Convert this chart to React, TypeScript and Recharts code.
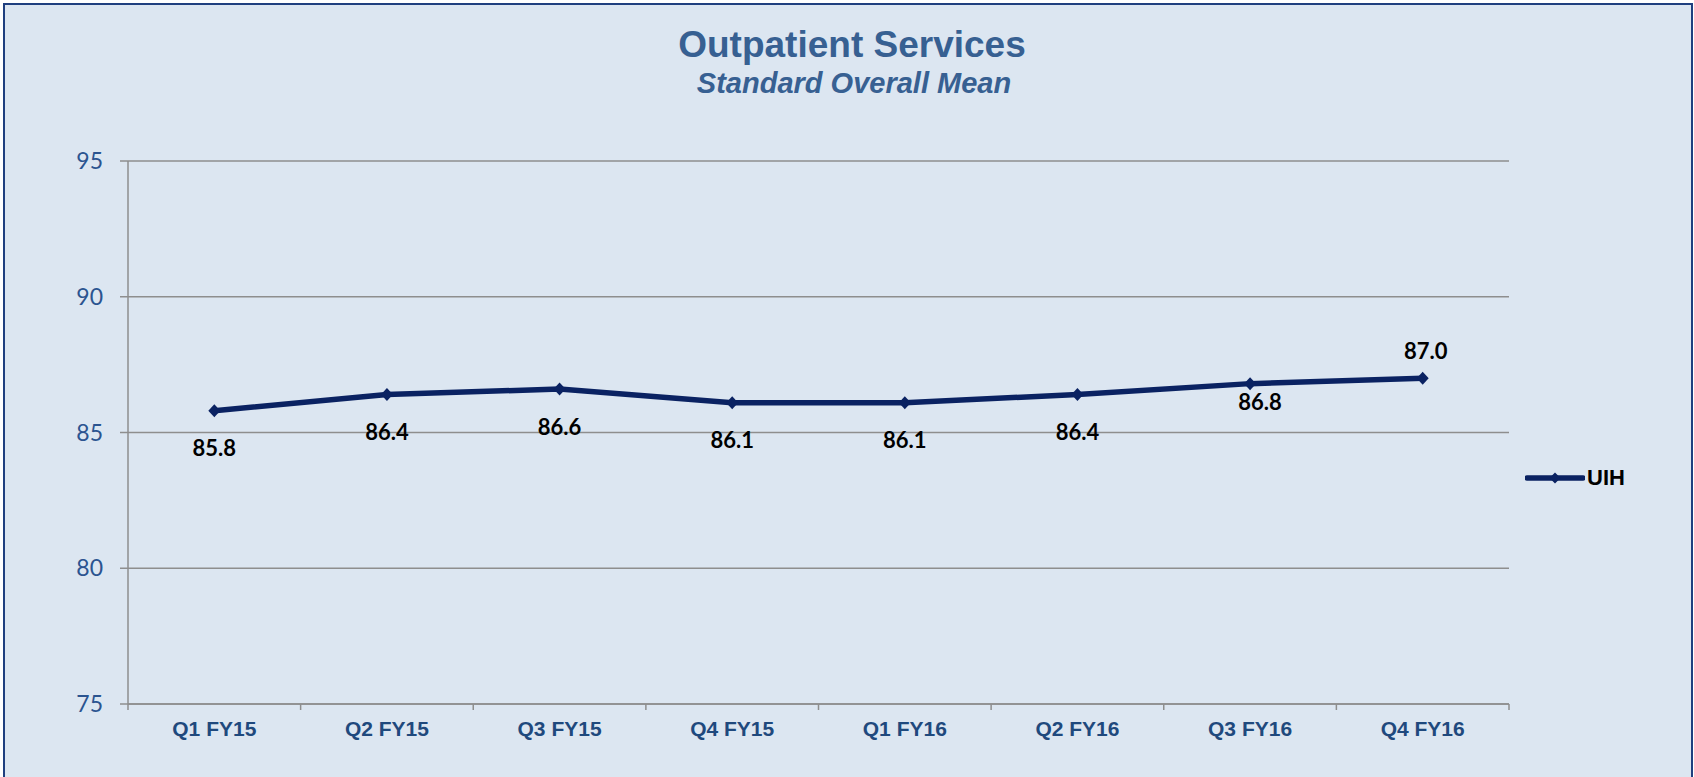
import React from "react";
import {
  LineChart,
  Line,
  XAxis,
  YAxis,
  CartesianGrid,
  LabelList,
  Legend,
} from "recharts";

const quarters = [
  "Q1 FY15",
  "Q2 FY15",
  "Q3 FY15",
  "Q4 FY15",
  "Q1 FY16",
  "Q2 FY16",
  "Q3 FY16",
  "Q4 FY16",
];
const uihMeans = [85.8, 86.4, 86.6, 86.1, 86.1, 86.4, 86.8, 87.0];
const yTicks = [75, 80, 85, 90, 95];

const NAVY = "#0A2262";
const GRID = "#8E8E8E";
const BG = "#DCE6F1";

// points sit in the middle of each quarter slot, ticks on the slot edges
const data = quarters.map((quarter, i) => ({
  pos: i + 0.5,
  quarter,
  uih: uihMeans[i],
}));
const xTicks = quarters
  .flatMap((_, i) => [i, i + 0.5])
  .concat(quarters.length);

function QuarterTick(props: any) {
  const { x, y, payload } = props;
  const v = payload.value as number;
  if (Number.isInteger(v)) {
    return (
      <line x1={x} y1={y} x2={x} y2={y + 6} stroke={GRID} strokeWidth={1.5} />
    );
  }
  return (
    <text
      x={x}
      y={y + 32}
      textAnchor="middle"
      fill="#1F497D"
      fontSize={21}
      fontWeight="bold"
      fontFamily="'Liberation Sans', Arial, sans-serif"
    >
      {quarters[Math.floor(v)]}
    </text>
  );
}

function Diamond(props: any) {
  const { cx, cy, index } = props;
  if (cx == null || cy == null) return null;
  return (
    <path
      key={`d-${index}`}
      d={`M${cx},${cy - 6.5}L${cx + 6},${cy}L${cx},${cy + 6.5}L${cx - 6},${cy}Z`}
      fill={NAVY}
    />
  );
}

// labels sit under the points, a couple were nudged by hand in the original
const labelNudge: Record<number, [number, number]> = {
  6: [10, 18],
  7: [3, -28],
};

function ValueLabel(props: any) {
  const { x, y, value, index } = props;
  const [dx, dy] = labelNudge[index] ?? [0, 37];
  return (
    <text
      x={x + dx}
      y={y + dy}
      textAnchor="middle"
      dominantBaseline="central"
      fill="#000"
      fontSize={22}
      fontWeight="bold"
      fontFamily="Lato, 'Open Sans', sans-serif"
    >
      {Number(value).toFixed(1)}
    </text>
  );
}

function LegendContent() {
  return (
    <div style={{ display: "flex", alignItems: "center" }}>
      <svg width={60} height={30}>
        <line
          x1={2}
          y1={15}
          x2={58}
          y2={15}
          stroke={NAVY}
          strokeWidth={5.5}
          strokeLinecap="round"
        />
        <path d="M30,9.5L35.5,15L30,20.5L24.5,15Z" fill={NAVY} />
      </svg>
      <span
        style={{
          fontFamily: "'Liberation Sans', Arial, sans-serif",
          fontWeight: "bold",
          fontSize: 22,
          color: "#000",
          marginLeft: 2,
        }}
      >
        UIH
      </span>
    </div>
  );
}

export default function App() {
  return (
    <div
      style={{
        position: "absolute",
        left: 0,
        top: 0,
        width: 1694,
        height: 777,
        background: "#fff",
        overflow: "hidden",
      }}
    >
      <div
        style={{
          position: "absolute",
          left: 3,
          top: 3,
          width: 1690,
          height: 800,
          boxSizing: "border-box",
          border: "2px solid #1F3F7F",
          background: BG,
        }}
      />
      <div
        style={{
          position: "absolute",
          left: 0,
          top: 26,
          width: 1704,
          textAlign: "center",
          fontFamily: "'Liberation Sans', Arial, sans-serif",
          fontWeight: "bold",
          fontSize: 37,
          lineHeight: "37px",
          color: "#376092",
        }}
      >
        Outpatient Services
      </div>
      <div
        style={{
          position: "absolute",
          left: 0,
          top: 69,
          width: 1708,
          textAlign: "center",
          fontFamily: "'Liberation Sans', Arial, sans-serif",
          fontWeight: "bold",
          fontStyle: "italic",
          fontSize: 29,
          lineHeight: "29px",
          color: "#376092",
        }}
      >
        Standard Overall Mean
      </div>
      <div style={{ position: "absolute", left: 0, top: 0 }}>
        <LineChart
          width={1694}
          height={777}
          data={data}
          margin={{ top: 161, right: 185, bottom: 33, left: 0 }}
        >
          <CartesianGrid vertical={false} stroke={GRID} strokeWidth={1.5} />
          <XAxis
            dataKey="pos"
            type="number"
            domain={[0, quarters.length]}
            ticks={xTicks}
            interval={0}
            height={40}
            tickSize={0}
            tickMargin={0}
            tickLine={false}
            axisLine={{ stroke: GRID, strokeWidth: 1.5 }}
            tick={<QuarterTick />}
          />
          <YAxis
            domain={[75, 95]}
            ticks={yTicks}
            interval={0}
            width={128}
            tickSize={8}
            tickMargin={17}
            axisLine={{ stroke: GRID, strokeWidth: 1.5 }}
            tickLine={{ stroke: GRID, strokeWidth: 1.5 }}
            tick={{
              fill: "#2B5490",
              fontSize: 23,
              fontFamily: "Lato, 'Open Sans', sans-serif",
            }}
          />
          <Legend
            layout="horizontal"
            align="center"
            verticalAlign="middle"
            wrapperStyle={{ left: 1525, top: 463, width: "auto" }}
            content={<LegendContent />}
          />
          <Line
            dataKey="uih"
            name="UIH"
            stroke={NAVY}
            strokeWidth={5.5}
            dot={<Diamond />}
            activeDot={false}
            isAnimationActive={false}
          >
            <LabelList dataKey="uih" content={<ValueLabel />} />
          </Line>
        </LineChart>
      </div>
    </div>
  );
}
